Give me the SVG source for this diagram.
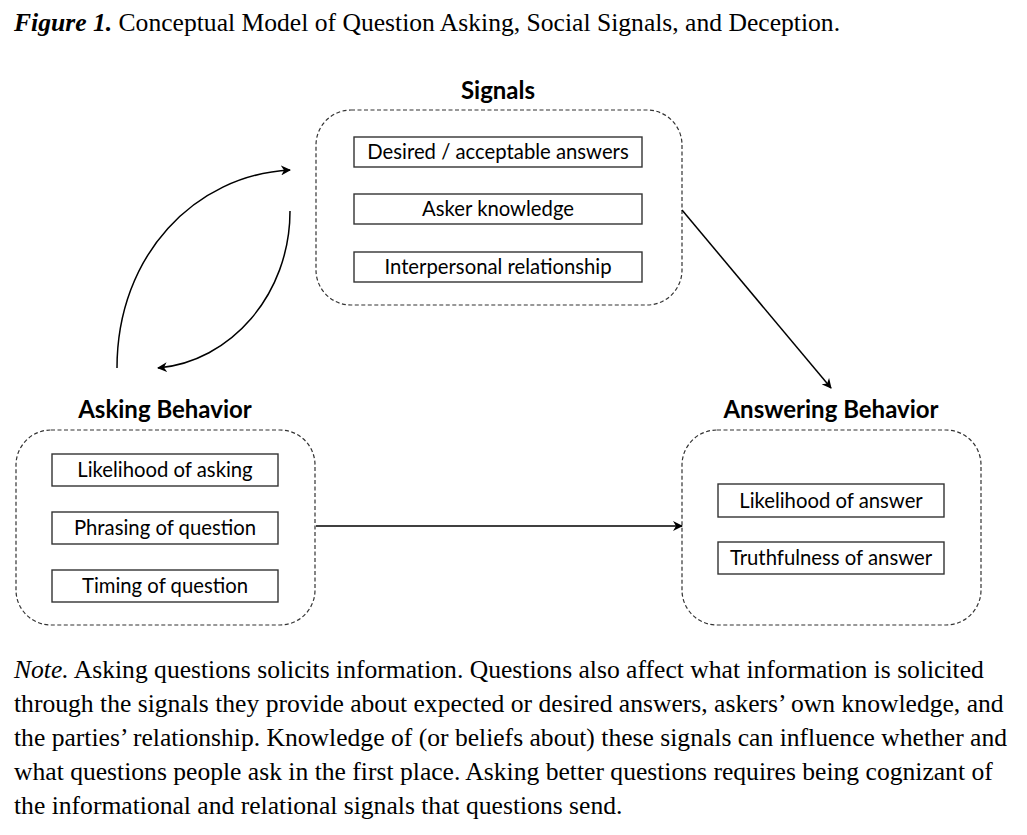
<svg xmlns="http://www.w3.org/2000/svg" width="1027" height="835" viewBox="0 0 1027 835">
<style>
.bg{fill:#fff}
.cont{fill:none;stroke:#333;stroke-width:1.2;stroke-dasharray:4 2.5}
.box{fill:#fff;stroke:#333;stroke-width:1.4}
.head{font-family:"Lato","Liberation Sans",sans-serif;font-weight:bold;font-size:24px;fill:#000;text-anchor:middle}
.item{font-family:"Lato","Liberation Sans",sans-serif;font-size:20.3px;fill:#000;text-anchor:middle}
.serif{font-family:"Liberation Serif","Times New Roman",serif;font-size:25.6px;fill:#000}
.conn{fill:none;stroke:#000;stroke-width:1.5}
</style>
<defs>
<marker id="arr" viewBox="0 0 10 10" refX="9" refY="5" markerWidth="10" markerHeight="10" markerUnits="userSpaceOnUse" orient="auto">
<path d="M0,0 L10,5 L0,10 L3,5 Z" fill="#000"/>
</marker>
</defs>
<rect class="bg" x="0" y="0" width="1027" height="835"/>
<text class="serif" x="14" y="31"><tspan font-weight="bold" font-style="italic">Figure 1.</tspan> Conceptual Model of Question Asking, Social Signals, and Deception.</text>

<g id="signals">
<text class="head" x="498" y="99">Signals</text>
<rect class="cont" x="316" y="110" width="366" height="195" rx="35" ry="35"/>
<rect class="box" x="354" y="137" width="288" height="30"/>
<text class="item" x="498" y="159">Desired / acceptable answers</text>
<rect class="box" x="354" y="194" width="288" height="30"/>
<text class="item" x="498" y="216">Asker knowledge</text>
<rect class="box" x="354" y="252" width="288" height="30"/>
<text class="item" x="498" y="274">Interpersonal relationship</text>
</g>

<g id="asking">
<text class="head" x="165" y="418">Asking Behavior</text>
<rect class="cont" x="16" y="430" width="299" height="195" rx="35" ry="35"/>
<rect class="box" x="52" y="454" width="226" height="32"/>
<text class="item" x="165" y="477">Likelihood of asking</text>
<rect class="box" x="52" y="512" width="226" height="32"/>
<text class="item" x="165" y="535">Phrasing of question</text>
<rect class="box" x="52" y="570" width="226" height="32"/>
<text class="item" x="165" y="593">Timing of question</text>
</g>

<g id="answering">
<text class="head" x="831" y="418">Answering Behavior</text>
<rect class="cont" x="682" y="430" width="299" height="195" rx="35" ry="35"/>
<rect class="box" x="718" y="484" width="226" height="33"/>
<text class="item" x="831" y="508">Likelihood of answer</text>
<rect class="box" x="718" y="542" width="226" height="32"/>
<text class="item" x="831" y="565">Truthfulness of answer</text>
</g>

<g id="connectors">
<path class="conn" d="M682,210 L831,388" marker-end="url(#arr)"/>
<path class="conn" d="M316,526 L682,526" marker-end="url(#arr)"/>
<path class="conn" d="M117,368 C117,255 195,175 290,170" marker-end="url(#arr)"/>
<path class="conn" d="M290,211 C290,295 230,362 158,368" marker-end="url(#arr)"/>
</g>

<g id="note">
<text class="serif" x="14" y="678"><tspan font-style="italic">Note.</tspan> Asking questions solicits information. Questions also affect what information is solicited</text>
<text class="serif" x="14" y="712">through the signals they provide about expected or desired answers, askers’ own knowledge, and</text>
<text class="serif" x="14" y="746">the parties’ relationship. Knowledge of (or beliefs about) these signals can influence whether and</text>
<text class="serif" x="14" y="780">what questions people ask in the first place. Asking better questions requires being cognizant of</text>
<text class="serif" x="14" y="814">the informational and relational signals that questions send.</text>
</g>
</svg>
